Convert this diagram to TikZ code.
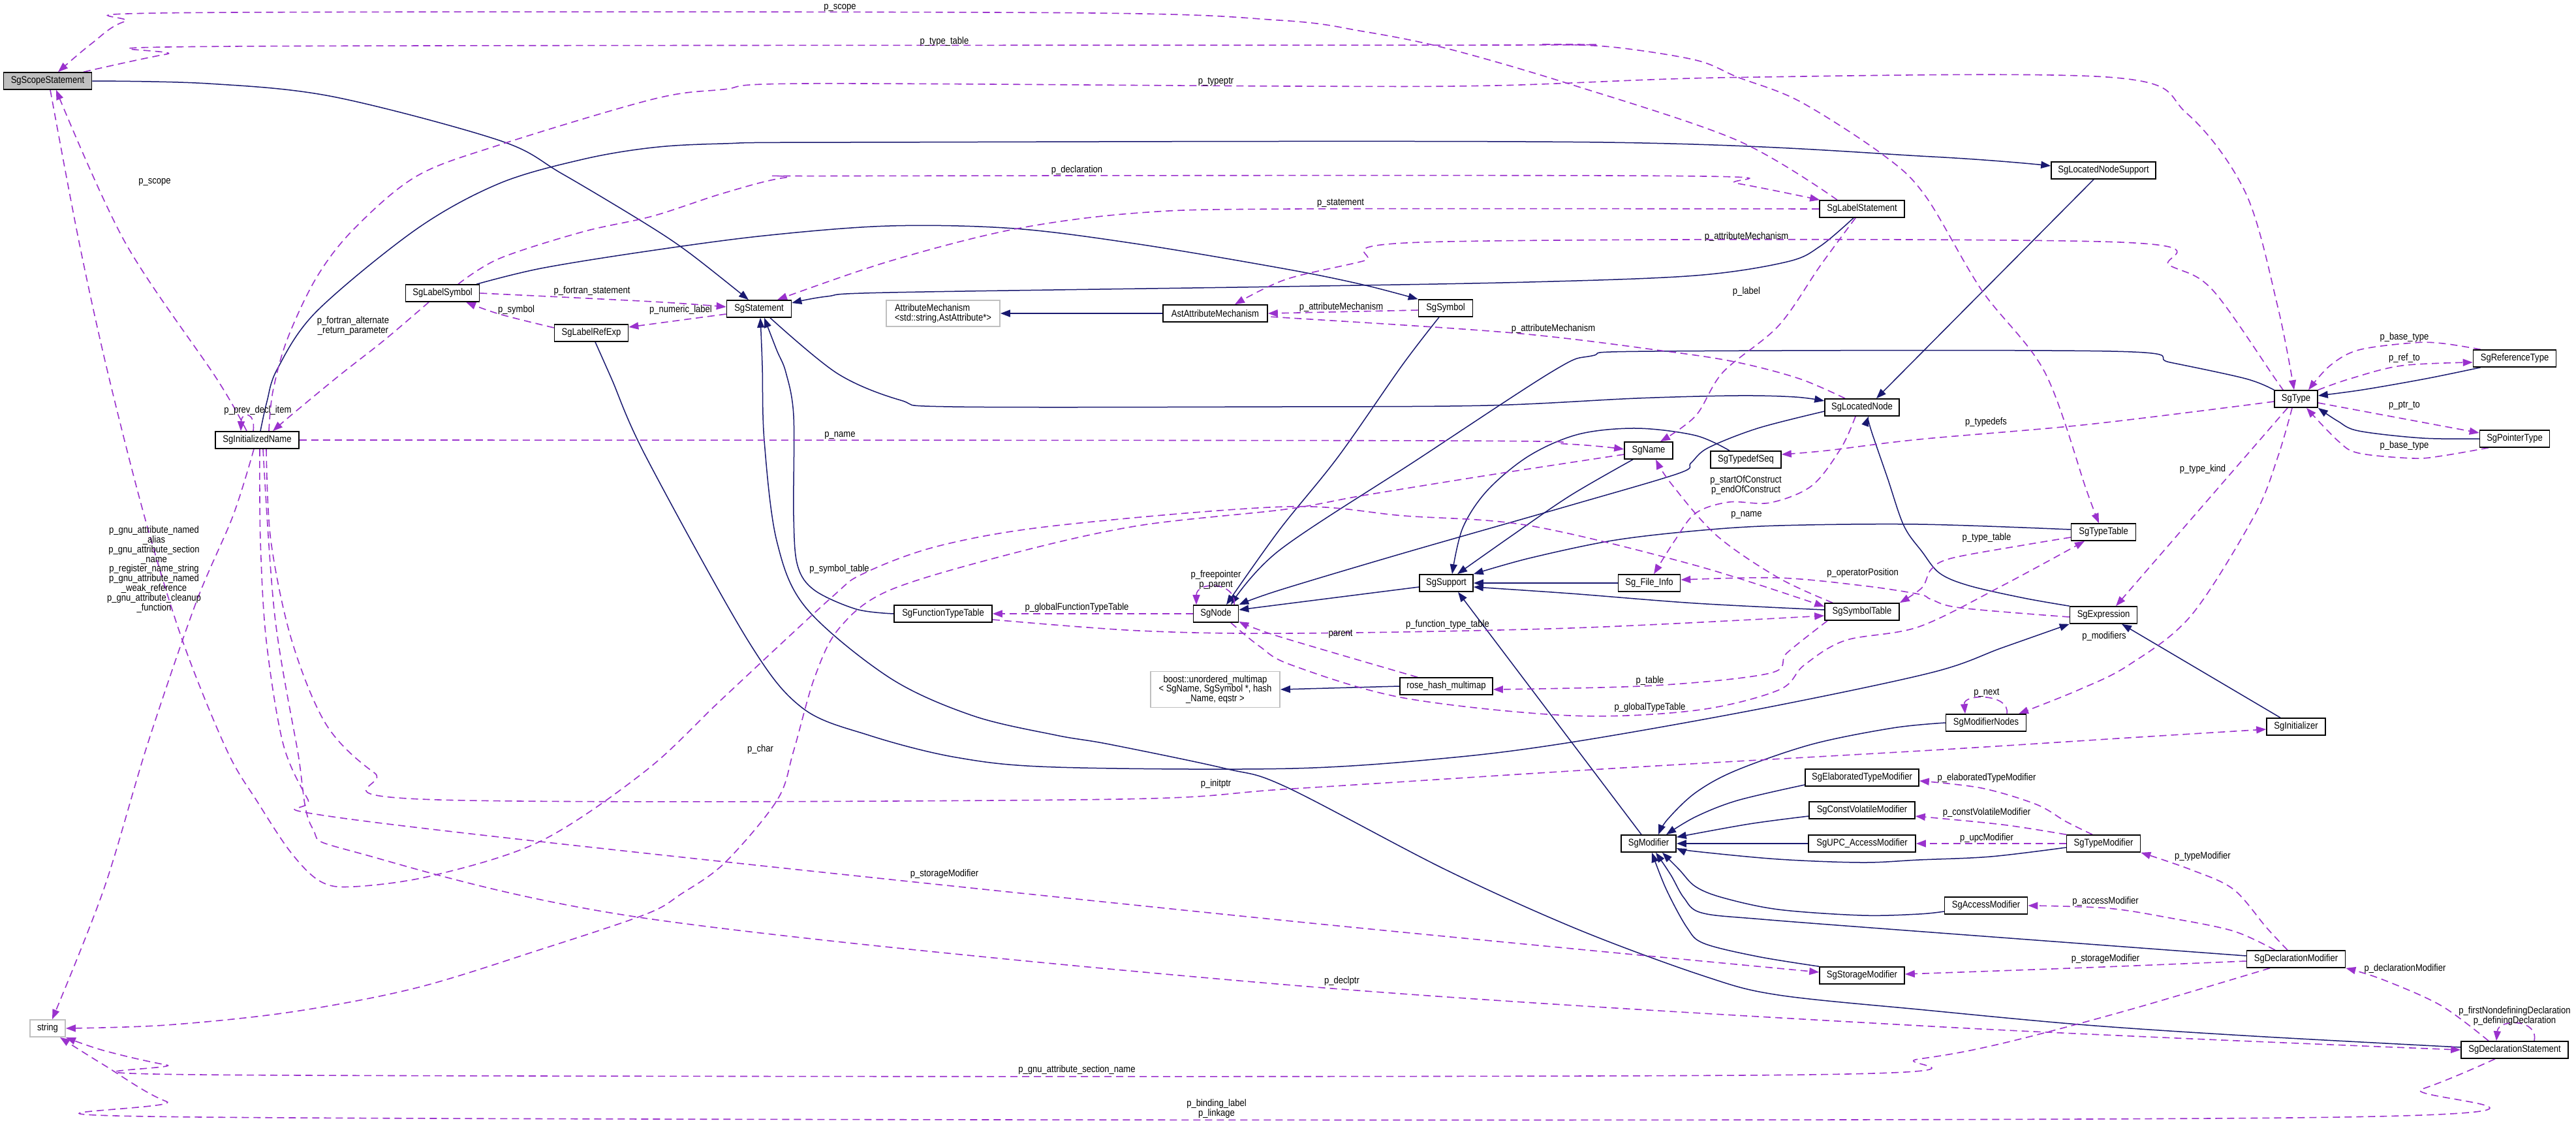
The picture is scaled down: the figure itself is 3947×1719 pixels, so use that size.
\documentclass[tikz,border=0pt]{standalone}
\usepackage{fontspec}
\newfontfamily\dfont[FakeStretch=0.87]{Liberation Sans}
\usetikzlibrary{arrows.meta}
\definecolor{navyc}{HTML}{191970}
\definecolor{purp}{HTML}{9A32CD}
\definecolor{extgray}{HTML}{BFBFBF}
\definecolor{scopegray}{HTML}{BFBFBF}
\pgfdeclarelayer{edges}
\pgfsetlayers{edges,main}
\begin{document}
\begin{tikzpicture}[x=1pt,y=-1pt,
  cls/.style={draw=black, line width=1.6pt, fill=white, minimum height=26pt, inner xsep=4pt, inner ysep=2pt, font=\dfont\fontsize{15}{14.8}\selectfont},
  ext/.style={draw=extgray, line width=1.8pt, fill=white, minimum height=26pt, inner xsep=4pt, inner ysep=2pt, font=\dfont\fontsize{15}{14.8}\selectfont},
  lbl/.style={inner sep=0pt, align=center, font=\dfont\fontsize{15}{14.8}\selectfont},
  inh/.style={draw=navyc, line width=1.5pt, -{Triangle[length=15pt,width=11pt]}},
  use/.style={draw=purp, line width=1.6pt, dash pattern=on 11pt off 7pt, -{Triangle[length=15pt,width=11pt]}}
]
\useasboundingbox (0,0) rectangle (3947,1719);
% ---------------- nodes ----------------
\node[cls, fill=scopegray, minimum width=135pt] (scope) at (73,124) {SgScopeStatement};
\node[cls, minimum width=113pt] (lsym) at (678,449) {SgLabelSymbol};
\node[cls, minimum width=113pt] (lref) at (906,510) {SgLabelRefExp};
\node[cls, minimum width=99pt] (stmt) at (1163,473) {SgStatement};
\node[ext, minimum width=174pt, minimum height=40pt, align=left] (attrm) at (1445,480) {AttributeMechanism\\<std::string,AstAttribute*>};
\node[cls, minimum width=160pt] (aam) at (1862,480) {AstAttributeMechanism};
\node[cls, minimum width=130pt] (lstmt) at (2853,320) {SgLabelStatement};
\node[cls, minimum width=83pt] (sym) at (2215,472) {SgSymbol};
\node[cls, minimum width=160pt] (lnsup) at (3223,261) {SgLocatedNodeSupport};
\node[cls, minimum width=127pt] (reft) at (3853,549) {SgReferenceType};
\node[cls, minimum width=128pt] (iname) at (394,674) {SgInitializedName};
\node[cls, minimum width=150pt] (ftt) at (1445,940) {SgFunctionTypeTable};
\node[cls, minimum width=69pt] (sgnode) at (1863,940) {SgNode};
\node[ext, minimum width=198pt, minimum height=55pt, align=center] (boost) at (1862,1056) {boost::unordered\_multimap\\< SgName, SgSymbol *, hash\\\_Name, eqstr >};
\node[cls, minimum width=114pt] (lnode) at (2853,624) {SgLocatedNode};
\node[cls, minimum width=74pt] (name) at (2526,690) {SgName};
\node[cls, minimum width=108pt] (tdseq) at (2675,704) {SgTypedefSeq};
\node[cls, minimum width=82pt] (support) at (2216,893) {SgSupport};
\node[cls, minimum width=95pt] (finfo) at (2527,893) {Sg\_File\_Info};
\node[cls, minimum width=114pt] (symtab) at (2853,937) {SgSymbolTable};
\node[cls, minimum width=142pt] (rose) at (2216,1051) {rose\_hash\_multimap};
\node[cls, minimum width=66pt] (type) at (3518,611) {SgType};
\node[cls, minimum width=107pt] (ptrt) at (3853,672) {SgPointerType};
\node[cls, minimum width=99pt] (ttab) at (3223,815) {SgTypeTable};
\node[cls, minimum width=103pt] (expr) at (3223,942) {SgExpression};
\node[cls, minimum width=123pt] (modn) at (3043,1107) {SgModifierNodes};
\node[cls, minimum width=90pt] (init) at (3518,1113) {SgInitializer};
\node[ext, minimum width=54pt] (string) at (73,1575) {string};
\node[cls, minimum width=174pt] (etm) at (2853,1191) {SgElaboratedTypeModifier};
\node[cls, minimum width=162pt] (cvm) at (2853,1241) {SgConstVolatileModifier};
\node[cls, minimum width=164pt] (upc) at (2853,1292) {SgUPC\_AccessModifier};
\node[cls, minimum width=84pt] (mod) at (2526,1292) {SgModifier};
\node[cls, minimum width=130pt] (stm) at (2853,1494) {SgStorageModifier};
\node[cls, minimum width=113pt] (tm) at (3223,1292) {SgTypeModifier};
\node[cls, minimum width=127pt] (am) at (3043,1387) {SgAccessModifier};
\node[cls, minimum width=151pt] (dm) at (3518,1469) {SgDeclarationModifier};
\node[cls, minimum width=164pt] (ds) at (3853,1608) {SgDeclarationStatement};
% ---------------- edges ----------------
\begin{pgfonlayer}{edges}
\fill[white] (0,0) rectangle (3947,1719);
% inheritance
\draw[inh] plot[smooth,tension=.55] coordinates {(scope.east) (319,128) (510,148) (765,215) (861,266) (990,343) (1057,388) ([xshift=-16pt]stmt.north)};
\draw[inh] plot[smooth,tension=.55] coordinates {([xshift=-13pt]lstmt.south) (2789,377) (2738,401) (2598,422) (2343,432) (1960,439) (1363,448) (1267,454) ([yshift=9pt]stmt.east)};
\draw[inh] plot[smooth,tension=.55] coordinates {([xshift=6pt]lref.south) (937,580) (990,700) (1146,981) (1229,1084) (1331,1126) (1465,1160) (1618,1175) (1980,1177) (2228,1160) (2419,1135) (2700,1085) (2960,1030) (3068,992) (expr.south west)};
\draw[inh] plot[smooth,tension=.55] coordinates {([xshift=17pt]stmt.south) (1283,572) (1380,613) (1460,623) (1960,623) (2279,621) (2508,610) (2662,606) (2750,608) ([yshift=10pt]lnode.west)};
\draw[inh] plot[smooth,tension=.55] coordinates {(ftt.west) (1312,933) (1248,904) (1222,866) (1216,790) (1216,637) (1204,570) (1190,536) ([xshift=8pt]stmt.south)};
\draw[inh] plot[smooth,tension=.55] coordinates {([yshift=4pt]ds.west) (3454,1587) (3197,1570) (2950,1547) (2725,1524) (2611,1495) (2419,1424) (2215,1332) (1970,1205) (1877,1177) (1700,1140) (1618,1126) (1490,1096) (1363,1038) (1235,931) (1190,828) (1171,675) (1168,560) ([xshift=2pt]stmt.south)};
\draw[inh] plot[smooth,tension=.55] coordinates {([xshift=-5pt]lsym.north east) (829,411) (990,385) (1171,361) (1363,346) (1554,350) (1745,374) (1970,412) (2088,436) (sym.north west)};
\draw[inh] plot[smooth,tension=.55] coordinates {([xshift=5pt]iname.north) (409,615) (425,565) (485,477) (638,351) (765,281) (893,244) (1000,226) (1108,220) (1300,218) (2457,218) (2960,240) ([yshift=7pt]lnsup.west)};
\draw[inh] ([xshift=-15pt]lnsup.south) -- ([xshift=22pt]lnode.north);
\draw[inh] plot[smooth,tension=.55] coordinates {([yshift=-6pt]lnode.west) (2693,656) (2617,686) (2591,709) (2572,725) (2406,774) (2151,847) (1960,904) (sgnode.north east)};
\draw[inh] plot[smooth,tension=.55] coordinates {([xshift=-10pt]sym.south) (2148,560) (2050,700) (1960,812) ([xshift=16pt]sgnode.north)};
\draw[inh] plot[smooth,tension=.55] coordinates {(type.north west) (3441,580) (3325,555) (3235,538) (2534,538) (2439,545) (2380,568) (2170,705) (1960,843) ([xshift=23pt]sgnode.north)};
\draw[inh] ([yshift=-6pt]support.west) -- ([yshift=6pt]sgnode.east);
\draw[inh] plot[smooth,tension=.55] coordinates {([xshift=-24pt]name.south) (2406,759) (2317,820) ([xshift=17pt]support.north)};
\draw[inh] plot[smooth,tension=.55] coordinates {([xshift=-25pt]tdseq.north) (2598,667) (2508,656) (2419,665) (2343,698) (2279,751) (2241,809) ([xshift=9pt]support.north)};
\draw[inh] (finfo.west) -- (support.east);
\draw[inh] plot[smooth,tension=.55] coordinates {([yshift=3pt]symtab.west) (2598,924) (2406,909) ([yshift=-6pt]support.east)};
\draw[inh] plot[smooth,tension=.55] coordinates {([yshift=4pt]ttab.west) (2940,803) (2725,805) (2598,813) (2470,828) (2343,855) (support.north east)};
\draw[inh] ([xshift=-11pt]mod.north) -- ([xshift=18pt]support.south);
\draw[inh] (rose.west) -- (boost.east);
\draw[inh] (aam.west) -- (attrm.east);
\draw[inh] plot[smooth,tension=.55] coordinates {(expr.north west) (3101,916) (3017,897) (2972,878) (2945,845) (2917,805) (2892,732) (2866,656) ([xshift=10pt]lnode.south)};
\draw[inh] ([xshift=-24pt]init.north) -- ([xshift=28pt]expr.south);
\draw[inh] plot[smooth,tension=.55] coordinates {(modn.west) (2900,1115) (2776,1140) (2660,1180) (2598,1214) (2555,1255) ([xshift=15pt]mod.north)};
\draw[inh] plot[smooth,tension=.55] coordinates {([yshift=-11pt]etm.west) (2662,1226) (2598,1251) ([xshift=27pt]mod.north)};
\draw[inh] plot[smooth,tension=.55] coordinates {([yshift=-9pt]cvm.west) (2680,1262) ([yshift=-4pt]mod.north east)};
\draw[inh] (upc.west) -- (mod.east);
\draw[inh] plot[smooth,tension=.55] coordinates {([yshift=-6pt]tm.west) (3050,1312) (2940,1317) (2853,1321) (2725,1316) (2598,1304) ([yshift=-7pt]mod.east)};
\draw[inh] plot[smooth,tension=.55] coordinates {([yshift=-9pt]am.west) (2940,1400) (2853,1402) (2725,1393) (2640,1375) (2598,1358) (2573,1332) ([xshift=21pt]mod.south)};
\draw[inh] plot[smooth,tension=.55] coordinates {([yshift=5pt]dm.west) (2960,1428) (2700,1408) (2607,1398) (2580,1375) (2560,1340) ([xshift=11pt]mod.south)};
\draw[inh] plot[smooth,tension=.55] coordinates {(stm.north west) (2693,1465) (2611,1445) (2585,1421) (2553,1362) ([xshift=5pt]mod.south)};
\draw[inh] plot[smooth,tension=.55] coordinates {(ptrt.west) (3711,671) (3614,660) (3582,645) (type.south east)};
\draw[inh] plot[smooth,tension=.55] coordinates {([xshift=12pt]reft.south west) (3717,580) (3620,597) ([yshift=5pt]type.east)};
% usage
\draw[use] plot[smooth,tension=.55] coordinates {([xshift=-38pt]lstmt.north) (2662,215) (2406,129) (2216,74) (2088,48) (1960,31) (1618,19.5) (287,19.5) (191,33) (140,67) ([xshift=16pt]scope.north)};
\draw[use] plot[smooth,tension=.55] coordinates {([xshift=-16pt]iname.north) (332,580) (191,370) ([xshift=13pt]scope.south)};
\draw[use] plot[smooth,tension=.55] coordinates {([xshift=55pt]scope.north) (255,83) (357,71) (2300,69) (2362,68) (2470,72) (2598,92) (2662,118) (2757,155) (2885,237) (2950,300) (3036,444) (3133,570) (3197,751) ([xshift=-7pt]ttab.north)};
\draw[use] plot[smooth,tension=.55] coordinates {([xshift=18pt]iname.north) (418,600) (440,520) (485,425) (542,351) (638,270) (765,222) (1000,152) (1108,137) (1235,128) (1980,132) (2292,131) (2662,118.5) (3235,118.5) (3351,174) (3441,296) (3490,470) ([xshift=-3pt]type.north)};
\draw[use] plot[smooth,tension=.55] coordinates {([xshift=24pt]lsym.north) (765,396) (893,355) (1000,331) (1108,296) (1203,272) (1299,269.5) (2566,269.5) (2662,281) ([xshift=1pt]lstmt.north west)};
\draw[use] plot[smooth,tension=.55] coordinates {(lstmt.west) (1980,320) (1745,326) (1554,351) (1363,400) ([xshift=28pt]stmt.north)};
\draw[use] plot[smooth,tension=.55] coordinates {([xshift=-20pt]type.north) (3486,580) (3390,444) (3325,407) (3235,370.5) (2196,370.5) (2088,400) (1970,428) ([xshift=30pt]aam.north)};
\draw[use] ([yshift=-3pt]sym.west) -- (aam.east);
\draw[use] plot[smooth,tension=.55] coordinates {([xshift=-26pt]lnode.north) (2757,580) (2662,555) (2553,538) (2319,510) (1960,486) ([yshift=-6pt]aam.east)};
\draw[use] plot[smooth,tension=.55] coordinates {(lsym.east) (1000,462) ([yshift=3pt]stmt.west)};
\draw[use] ([yshift=-8pt]stmt.west) -- ([yshift=9pt]lref.east);
\draw[use] plot[smooth,tension=.55] coordinates {([yshift=8pt]lref.west) (765,481) ([xshift=36pt]lsym.south)};
\draw[use] plot[smooth,tension=.55] coordinates {([xshift=-21pt]lsym.south) (590,520) (520,575) (446,636) ([xshift=24pt]iname.north)};
\draw[use] ([xshift=-6pt]iname.north) .. controls (392,630) and (370,630) .. ([xshift=-25pt]iname.north);
\draw[use] plot[smooth,tension=.55] coordinates {(iname.east) (2200,675) (2400,680) ([yshift=2pt]name.west)};
\draw[use] plot[smooth,tension=.55] coordinates {([xshift=4pt]scope.south) (121,370) (165,570) (223,797) (281,985) (348,1150) (395,1229) (446,1306) (491,1350) (542,1358) (663,1341) (829,1288) (990,1180) (1108,1069) (1273,916) (1324,878) (1439,836) (1618,805) (1970,776) (2151,790) (2343,805) (2598,866) ([yshift=8pt]symtab.west)};
\draw[use] plot[smooth,tension=.55] coordinates {([yshift=-6pt]name.west) (2279,728) (2088,759) (1970,780) (1745,805) (1554,847) (1363,904) (1286,962) (1248,1038) (1216,1150) (1191,1225) (1111,1321) (1044,1369) (990,1400) (829,1454) (638,1513) (446,1550) (255,1570) (string.east)};
\draw[use] plot[smooth,tension=.55] coordinates {([xshift=-45pt]symtab.north) (2725,885) (2630,820) (2560,740) ([xshift=11pt]name.south)};
\draw[use] plot[smooth,tension=.55] coordinates {([xshift=-10pt]lstmt.south) (2789,407) (2725,499) (2640,570) (2598,637) ([xshift=18pt]name.north)};
\draw[use] plot[smooth,tension=.55] coordinates {([xshift=-10pt]lnode.south) (2821,686) (2776,744) (2712,770) (2649,769) (2598,786) (2566,828) ([xshift=7pt]finfo.north)};
\draw[use] plot[smooth,tension=.55] coordinates {([yshift=-4pt]type.west) (3200,650) (2940,673) (2800,690) ([yshift=8pt]tdseq.east)};
\draw[use] plot[smooth,tension=.55] coordinates {([yshift=-3pt]expr.west) (3004,931) (2959,918) (2940,910) (2854,897) (2725,885) ([yshift=5pt]finfo.east)};
\draw[use] plot[smooth,tension=.55] coordinates {([yshift=-8pt]ttab.west) (3100,835) (2990,855) (2959,872) (2945,900) (symtab.north east)};
\draw[use] plot[smooth,tension=.55] coordinates {([xshift=-53pt]symtab.south) (2738,1000) (2712,1031) (2534,1050) ([yshift=-5pt]rose.east)};
\draw[use] plot[smooth,tension=.55] coordinates {([xshift=23pt]sgnode.south) (1930,990) (1980,1019) (2151,1069) (2406,1096) (2598,1088) (2725,1057) (2764,1019) (2827,981) (2940,960) (3068,897) ([xshift=-29pt]ttab.south)};
\draw[use] plot[smooth,tension=.55] coordinates {([xshift=-44pt]rose.north) (1960,975) ([yshift=-12pt]sgnode.east)};
\draw[use] plot[smooth,tension=.55] coordinates {([yshift=-9pt]ftt.east) (1745,966) (1980,970) (2406,962) ([yshift=-6pt]symtab.west)};
\draw[use] (sgnode.west) -- (ftt.east);
\draw[use] ([xshift=28pt]sgnode.north) .. controls (1895,890) and (1833,890) .. ([xshift=-30pt]sgnode.north);
\draw[use] ([yshift=-6pt]type.east) -- ([yshift=9pt]ptrt.west);
\draw[use] plot[smooth,tension=.55] coordinates {([xshift=-40pt]ptrt.south) (3743,698) (3698,702) (3614,694) (3582,675) ([xshift=16pt]type.south)};
\draw[use] plot[smooth,tension=.55] coordinates {([xshift=12pt]reft.north west) (3743,526) (3698,525) (3614,536) (3570,560) ([xshift=19pt]type.north)};
\draw[use] plot[smooth,tension=.55] coordinates {(type.north east) (3601,580) (3680,560) ([yshift=-6pt]reft.west)};
\draw[use] ([xshift=-13pt]type.south) -- ([xshift=19pt]expr.north);
\draw[use] plot[smooth,tension=.55] coordinates {([xshift=-6pt]type.south) (3490,700) (3454,790) (3357,943) (3261,1019) (3184,1057) ([xshift=50pt]modn.north)};
\draw[use] ([xshift=32pt]modn.north) .. controls (3080,1062) and (3008,1062) .. ([xshift=-32pt]modn.north);
\draw[use] plot[smooth,tension=.55] coordinates {([xshift=14pt]iname.south) (415,828) (447,981) (500,1110) (574,1184) (657,1224.5) (1681,1224.5) (1980,1208) (2470,1177) (2960,1149) (3261,1130) ([yshift=-4pt]init.west)};
\draw[use] plot[smooth,tension=.55] coordinates {([xshift=4pt]iname.south) (399,828) (408,981) (434,1140) (472,1225) (490,1248) (1000,1308) (1980,1411) ([yshift=5pt]stm.west)};
\draw[use] plot[smooth,tension=.55] coordinates {([xshift=9pt]iname.south) (421,943) (456,1150) (478,1267) (548,1306) (1000,1408) (1980,1509) (2960,1572) (ds.west)};
\draw[use] plot[smooth,tension=.55] coordinates {([xshift=-5pt]iname.south) (357,790) (300,924) (226,1140) (159,1362) ([xshift=7pt]string.north)};
\draw[use] plot[smooth,tension=.55] coordinates {([xshift=-40pt]dm.south) (3261,1547) (3068,1598) (2940,1622) (2725,1646.5) (370,1646.5) (255,1631) (159,1609) (string.south east)};
\draw[use] plot[smooth,tension=.55] coordinates {([xshift=-30pt]ds.south) (3711,1668) (3550,1711.5) (370,1711.5) (255,1687) (159,1631) ([xshift=19pt]string.south)};
\draw[use] plot[smooth,tension=.55] coordinates {([xshift=-40pt]ds.north) (3740,1540) (3650,1500) (dm.south east)};
\draw[use] ([xshift=30pt]ds.north) .. controls (3890,1560) and (3828,1560) .. ([xshift=-28pt]ds.north);
\draw[use] plot[smooth,tension=.55] coordinates {([xshift=-13pt]dm.north) (3473,1421) (3422,1362) (3357,1332) (tm.south east)};
\draw[use] plot[smooth,tension=.55] coordinates {([xshift=-32pt]dm.north) (3422,1426) (3325,1406) (3229,1391) (am.east)};
\draw[use] plot[smooth,tension=.55] coordinates {([yshift=-3pt]dm.west) (3197,1482) ([yshift=2pt]stm.east)};
\draw[use] plot[smooth,tension=.55] coordinates {([xshift=-17pt]tm.north) (3165,1258) (3120,1232) (3036,1207) ([yshift=-5pt]etm.east)};
\draw[use] plot[smooth,tension=.55] coordinates {(tm.north west) (3068,1263) ([yshift=-9pt]cvm.east)};
\draw[use] (tm.west) -- (upc.east);
\end{pgfonlayer}
% ---------------- labels ----------------
\node[lbl] (t1) at (1287,12) {p\_scope};
\node[lbl] (t2) at (1447,64) {p\_type\_table};
\node[lbl] (t3) at (1863,125) {p\_typeptr};
\node[lbl] (t4) at (1650,261) {p\_declaration};
\node[lbl] (t5) at (2054,311) {p\_statement};
\node[lbl] (t6) at (2676,363) {p\_attributeMechanism};
\node[lbl] (t7) at (2676,447) {p\_label};
\node[lbl] (t8) at (2055,471) {p\_attributeMechanism};
\node[lbl] (t9) at (2380,504) {p\_attributeMechanism};
\node[lbl] (t10) at (237,279) {p\_scope};
\node[lbl] (t11) at (541,499) {p\_fortran\_alternate\\\_return\_parameter};
\node[lbl] (t12) at (907,446) {p\_fortran\_statement};
\node[lbl] (t13) at (791,475) {p\_symbol};
\node[lbl] (t14) at (1043,475) {p\_numeric\_label};
\node[lbl] (t15) at (395,629) {p\_prev\_decl\_item};
\node[lbl] (t16) at (1287,667) {p\_name};
\node[lbl] (t17) at (236,872) {p\_gnu\_attribute\_named\\\_alias\\p\_gnu\_attribute\_section\\\_name\\p\_register\_name\_string\\p\_gnu\_attribute\_named\\\_weak\_reference\\p\_gnu\_attribute\_cleanup\\\_function};
\node[lbl] (t18) at (1286,872) {p\_symbol\_table};
\node[lbl] (t19) at (1863,888) {p\_freepointer\\p\_parent};
\node[lbl] (t20) at (1650,931) {p\_globalFunctionTypeTable};
\node[lbl] (t21) at (1165,1148) {p\_char};
\node[lbl] (t22) at (2675,743) {p\_startOfConstruct\\p\_endOfConstruct};
\node[lbl] (t23) at (2676,789) {p\_name};
\node[lbl] (t24) at (2854,878) {p\_operatorPosition};
\node[lbl] (t25) at (2218,957) {p\_function\_type\_table};
\node[lbl] (t26) at (2054,971) {parent};
\node[lbl] (t27) at (2528,1043) {p\_table};
\node[lbl] (t28) at (2528,1084) {p\_globalTypeTable};
\node[lbl] (t29) at (3684,517) {p\_base\_type};
\node[lbl] (t30) at (3684,549) {p\_ref\_to};
\node[lbl] (t31) at (3684,621) {p\_ptr\_to};
\node[lbl] (t32) at (3684,683) {p\_base\_type};
\node[lbl] (t33) at (3043,647) {p\_typedefs};
\node[lbl] (t34) at (3375,719) {p\_type\_kind};
\node[lbl] (t35) at (3044,824) {p\_type\_table};
\node[lbl] (t36) at (3224,975) {p\_modifiers};
\node[lbl] (t37) at (3044,1061) {p\_next};
\node[lbl] (t38) at (1863,1201) {p\_initptr};
\node[lbl] (t39) at (1447,1339) {p\_storageModifier};
\node[lbl] (t40) at (2056,1503) {p\_declptr};
\node[lbl] (t41) at (1650,1639) {p\_gnu\_attribute\_section\_name};
\node[lbl] (t42) at (1864,1698) {p\_binding\_label\\p\_linkage};
\node[lbl] (t43) at (3044,1192) {p\_elaboratedTypeModifier};
\node[lbl] (t44) at (3044,1245) {p\_constVolatileModifier};
\node[lbl] (t45) at (3044,1284) {p\_upcModifier};
\node[lbl] (t46) at (3375,1312) {p\_typeModifier};
\node[lbl] (t47) at (3226,1381) {p\_accessModifier};
\node[lbl] (t48) at (3226,1469) {p\_storageModifier};
\node[lbl] (t49) at (3685,1484) {p\_declarationModifier};
\node[lbl] (t50) at (3853,1556) {p\_firstNondefiningDeclaration\\p\_definingDeclaration};
\end{tikzpicture}
\end{document}
